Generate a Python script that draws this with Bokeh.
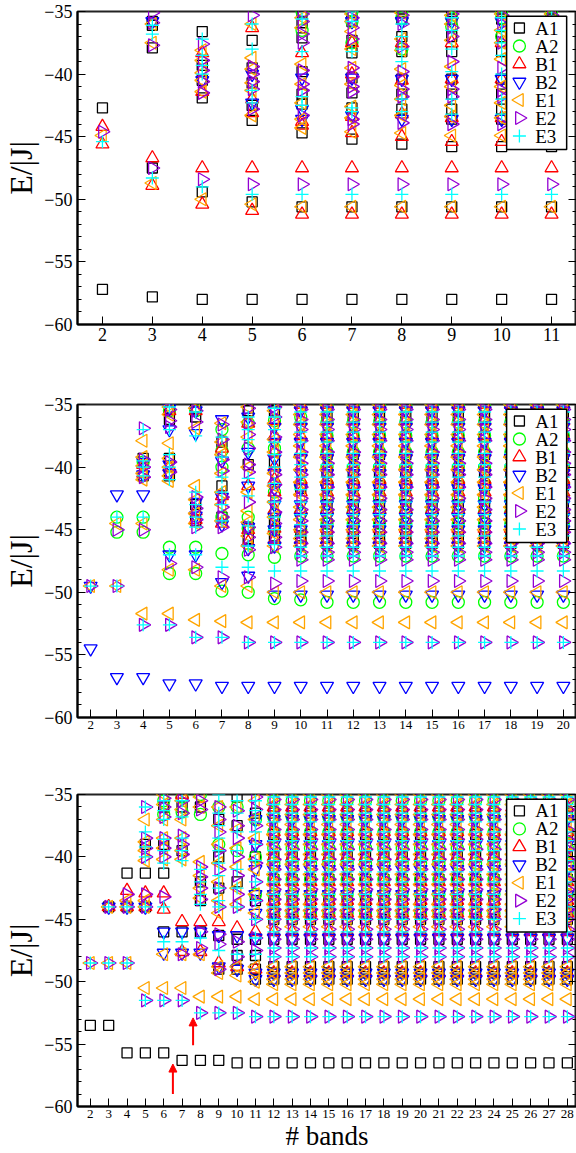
import math
from bokeh.plotting import figure
from bokeh.layouts import column
from bokeh.models import (Range1d, FixedTicker, SingleIntervalTicker, LinearAxis,
                          Arrow, NormalHead, ColumnDataSource)
from bokeh.core.properties import value
from bokeh.embed import file_html
from bokeh.resources import INLINE

SERIES = ["A1", "A2", "B1", "B2", "E1", "E2", "E3"]
Y_MIN, Y_MAX = -60, -35
P1_XTICKS = list(range(2, 12))
P2_XTICKS = list(range(2, 21))
P3_XTICKS = list(range(2, 29))

# ---------------- Panel 1 (bands 2..11) ----------------
P1_A1 = [([2], [-42.7, -57.2]),
         ([3], [-35.8, -36.1, -37.9, -47.5, -57.8]),
         ([4], [-36.6, -39.3, -40.5, -41.9, -49.4, -58.0]),
         ([5], [-37.3, -39.5, -40.7, -42.5, -43.7, -50.2, -58.0]),
         ([6], [-35.0, -35.9, -37.1, -39.8, -41.6, -42.4, -44.7, -50.6, -58.0]),
         ([7], [-35.0, -35.8, -37.3, -38.3, -40.3, -41.5, -42.7, -45.2, -50.6, -58.0]),
         ([8], [-35.0, -35.6, -37.0, -38.2, -40.4, -41.6, -42.8, -45.6, -50.6, -58.0]),
         ([9, 10, 11], [-35.0, -35.6, -37.0, -38.2, -40.4, -41.6, -42.8, -43.6, -45.8, -50.6, -58.0])]
P1_A2 = [([6], [-35.0, -36.5]),
         ([7], [-35.0, -35.8, -37.5]),
         ([8], [-35.0, -35.5, -38.0]),
         ([9], [-35.5, -36.2]),
         ([10, 11], [-35.0, -35.5, -37.0])]
P1_B1 = [([2], [-44.2, -45.6]),
         ([3], [-46.7, -48.9]),
         ([4], [-38.3, -41.4, -47.5, -50.4]),
         ([5], [-36.3, -42.0, -43.1, -47.5, -50.9]),
         ([6], [-38.3, -43.8, -44.1, -47.5, -51.2]),
         ([7], [-37.5, -40.0, -43.4, -44.7, -47.5, -51.2]),
         ([8], [-37.5, -40.5, -43.2, -45.0, -47.5, -51.2]),
         ([9, 10, 11], [-37.5, -40.4, -43.5, -45.4, -47.5, -51.2])]
P1_B2 = [([3], [-35.8]),
         ([4], [-40.5]),
         ([5], [-40.0, -42.3]),
         ([6], [-40.3, -42.8, -43.6]),
         ([7], [-35.8, -40.3, -43.3]),
         ([8, 9, 10, 11], [-35.8, -40.4, -43.6])]
P1_E1 = [([2], [-44.9]),
         ([3], [-36.0, -37.5, -48.7]),
         ([4], [-38.1, -38.9, -39.9, -40.5, -41.4, -50.0]),
         ([5], [-36.0, -38.7, -39.6, -40.7, -41.3, -43.3, -50.4]),
         ([6], [-35.5, -36.3, -39.2, -40.8, -42.3, -43.6, -44.3, -50.6]),
         ([7], [-35.2, -35.8, -36.6, -38.0, -39.5, -40.8, -42.6, -43.5, -44.6, -50.6]),
         ([8], [-35.1, -37.2, -38.1, -39.6, -40.9, -42.0, -43.3, -44.7, -50.6]),
         ([9], [-35.3, -36.0, -37.3, -39.4, -41.0, -42.5, -43.4, -44.9, -50.6]),
         ([10, 11], [-35.2, -36.5, -37.5, -38.8, -41.0, -42.3, -43.5, -44.9, -50.6])]
P1_E2 = [([2], [-44.6]),
         ([3], [-35.1, -35.9, -37.7, -47.5]),
         ([4], [-37.6, -38.9, -39.7, -40.6, -41.5, -48.4]),
         ([5], [-35.3, -39.4, -40.0, -40.6, -41.2, -42.8, -48.8]),
         ([6], [-35.2, -35.8, -36.8, -37.5, -39.7, -40.8, -41.3, -43.3, -48.8]),
         ([7], [-35.5, -36.3, -37.2, -39.5, -40.2, -41.0, -41.4, -43.6, -44.0, -48.8]),
         ([8], [-35.3, -36.0, -37.8, -39.8, -41.2, -41.8, -43.9, -48.8]),
         ([9], [-35.2, -36.3, -37.0, -39.0, -41.2, -41.8, -44.0, -48.8]),
         ([10, 11], [-35.3, -36.0, -37.5, -39.5, -41.3, -41.8, -44.0, -48.8])]
P1_E3 = [([2], [-45.4]),
         ([3], [-36.1, -36.8, -48.3]),
         ([4], [-37.2, -38.5, -39.3, -40.0, -49.0]),
         ([5], [-36.0, -38.0, -41.3, -42.3, -49.6]),
         ([6], [-35.6, -38.2, -41.8, -42.5, -49.6]),
         ([7], [-35.0, -35.8, -38.2, -42.7, -43.0, -49.6]),
         ([8], [-36.0, -37.0, -38.0, -39.0, -42.0, -43.0, -49.6]),
         ([9], [-35.5, -36.5, -38.0, -39.8, -42.0, -43.2, -49.6]),
         ([10, 11], [-35.5, -36.5, -37.5, -38.5, -40.0, -42.0, -43.2, -49.6])]

# ---------------- Panel 2 (bands 2..20) ----------------
P2_TAIL = list(range(11, 21))
P2_A1 = [([4], [-39.3, -40.7]),
         ([5], [-35.3, -36.2, -39.3, -40.7]),
         ([6], [-35.3, -36.0, -43.0, -44.3]),
         ([7], [-38.0, -41.5, -44.0]),
         ([8], [-35.5, -39.8, -44.8, -45.7]),
         ([9], [-35.5, -39.6, -44.3, -45.5]),
         ([10], [-41.7, -45.5, -46.0]),
         (P2_TAIL, [-36.0, -37.6, -39.0, -40.4, -41.5, -43.0, -44.5, -45.6, -46.1])]
P2_A2 = [([3, 4], [-44.0, -45.2]),
         ([4], [-39.6]),
         ([5, 6], [-35.5, -46.4, -48.5]),
         ([7], [-37.0, -38.7, -40.0, -44.0, -46.9, -49.9]),
         ([8], [-36.5, -38.5, -44.0, -44.9, -47.0, -50.0]),
         ([9], [-36.3, -38.5, -42.0, -43.8, -45.0, -47.2, -50.5]),
         ([10], [-36.0, -41.5, -43.7, -45.0, -47.1, -50.6]),
         (P2_TAIL, [-35.1, -36.4, -37.5, -38.8, -40.0, -41.3, -42.5, -43.6, -44.5, -47.1, -50.8])]
P2_B1 = [([4], [-39.8, -40.5]),
         ([5], [-35.5, -40.0]),
         ([6], [-35.5, -43.5, -44.2]),
         ([7], [-38.5, -42.3, -44.5]),
         ([8], [-36.5, -41.5, -45.0, -46.0]),
         ([9, 10] + P2_TAIL, [-35.0, -36.3, -37.5, -38.8, -40.0, -41.0, -42.0, -43.4, -44.9, -45.8])]
P2_B2 = [([2], [-49.5, -54.5]),
         ([3], [-42.2, -56.8]),
         ([4], [-39.6, -40.6, -42.2, -56.8]),
         ([5], [-35.3, -37.0, -39.8, -40.5, -47.0, -57.3]),
         ([6], [-35.5, -37.3, -42.8, -43.9, -47.0, -57.3]),
         ([7], [-36.2, -39.5, -42.4, -44.6, -49.2, -57.5]),
         ([8], [-36.0, -38.8, -41.5, -44.8, -46.5, -48.7, -57.5]),
         ([9, 10] + P2_TAIL, [-35.5, -36.8, -38.0, -39.3, -40.5, -41.7, -43.0, -44.0, -45.0, -46.3,
                              -50.2, -57.5])]
P2_E1 = [([2], [-49.5]),
         ([3], [-44.5, -49.5]),
         ([4], [-37.9, -39.2, -39.9, -40.5, -41.0, -44.5, -51.7]),
         ([5], [-35.2, -35.8, -38.1, -39.3, -40.0, -40.7, -41.1, -48.2, -51.7]),
         ([6], [-35.3, -36.9, -41.5, -42.6, -43.7, -44.5, -48.2, -52.2]),
         ([7], [-36.5, -38.0, -39.0, -40.5, -42.0, -43.0, -44.3, -49.5, -52.3]),
         ([8], [-35.2, -36.4, -37.6, -40.0, -42.0, -43.5, -44.4, -45.5, -46.3, -49.5, -52.4]),
         ([9], [-35.5, -36.5, -37.8, -38.8, -40.5, -41.5, -42.8, -44.0, -45.3, -46.3, -50.0, -52.4]),
         ([10] + P2_TAIL, [-35.0, -35.8, -36.6, -37.4, -38.3, -39.2, -40.2, -41.2, -42.2, -43.2,
                           -44.2, -45.0, -45.7, -46.3, -50.0, -52.4])]
P2_E2 = [([2], [-49.5]),
         ([3], [-45.0, -49.5]),
         ([4], [-36.9, -39.4, -40.0, -40.8, -45.0, -52.6]),
         ([5], [-35.4, -36.3, -36.8, -39.6, -40.4, -47.7, -52.6]),
         ([6], [-35.5, -36.4, -42.4, -43.3, -44.2, -44.8, -48.0, -53.6]),
         ([7], [-36.6, -37.8, -39.4, -40.3, -42.4, -43.2, -44.0, -44.8, -48.8, -53.6]),
         ([8], [-35.3, -36.5, -37.4, -38.5, -39.8, -40.4, -42.8, -44.8, -45.6, -46.6, -48.8, -54.0]),
         ([9], [-35.2, -36.0, -37.6, -38.8, -40.6, -41.4, -42.5, -43.6, -44.5, -45.6, -46.4, -49.3, -54.0]),
         ([10] + P2_TAIL, [-35.4, -36.2, -37.0, -37.9, -38.8, -39.7, -40.6, -41.6, -42.5, -43.4,
                           -44.3, -45.2, -46.1, -46.8, -47.4, -49.1, -54.0])]
P2_E3 = [([2], [-49.5]),
         ([3], [-44.0, -49.5]),
         ([4], [-37.0, -39.5, -40.0, -40.7, -44.0, -52.6]),
         ([5], [-35.2, -37.0, -39.0, -40.0, -41.0, -47.0, -52.6]),
         ([6], [-35.6, -37.5, -42.0, -43.0, -44.0, -44.8, -47.0, -53.6]),
         ([7], [-37.6, -39.2, -40.8, -42.0, -43.0, -44.3, -48.0, -53.6]),
         ([8], [-36.0, -37.0, -37.8, -38.7, -40.9, -42.3, -44.7, -46.3, -48.0, -54.0]),
         ([9], [-35.3, -36.0, -37.0, -38.0, -39.0, -40.0, -41.3, -42.8, -44.0, -45.0, -46.2, -48.3, -54.0]),
         ([10] + P2_TAIL, [-35.6, -36.4, -37.2, -38.0, -38.9, -39.8, -40.8, -41.8, -42.8, -43.8,
                           -44.6, -45.5, -46.4, -47.1, -48.3, -54.0])]

# ---------------- Panel 3 (bands 2..28) ----------------
P3_TAIL = list(range(12, 29))
P3_A1 = [([2], [-53.5]),
         ([3], [-44.0, -53.5]),
         ([4], [-41.3, -44.0, -55.7]),
         ([5], [-39.0, -41.3, -44.0, -55.7]),
         ([6], [-36.0, -39.0, -41.3, -46.0, -55.7]),
         ([7], [-36.0, -39.5, -46.0, -56.3]),
         ([8], [-36.0, -42.0, -43.5, -46.0, -56.3]),
         ([9], [-37.0, -40.0, -42.5, -46.3, -49.0, -56.3]),
         ([10], [-35.2, -37.5, -42.0, -46.6, -47.9, -49.0, -56.5]),
         ([11], [-36.5, -40.0, -43.5, -46.6, -47.9, -49.0, -49.8, -56.5]),
         (P3_TAIL, [-36.5, -38.2, -40.0, -41.8, -43.5, -45.0, -46.6, -48.8, -49.3, -49.8, -56.5])]
P3_A2 = [([6], [-35.5, -36.6]),
         ([7], [-35.2, -36.4]),
         ([8], [-35.0, -36.6]),
         ([9], [-36.0, -39.0]),
         ([10], [-36.0, -39.5]),
         ([11], [-37.0, -40.0, -43.0]),
         (P3_TAIL, [-35.5, -36.8, -38.0, -39.3, -40.5, -41.8, -43.0, -44.5])]
P3_B1 = [([3], [-44.0]),
         ([4], [-42.7, -44.0]),
         ([5], [-42.9, -44.0]),
         ([6], [-42.9, -44.2]),
         ([7], [-35.0, -45.2, -47.6]),
         ([8], [-45.2, -47.6]),
         ([9], [-45.2, -48.5]),
         ([10], [-45.7, -48.8]),
         ([11], [-46.0, -49.0]),
         (P3_TAIL, [-36.0, -38.0, -40.0, -42.0, -43.5, -44.5, -46.0, -49.3])]
P3_B2 = [([3, 4, 5], [-44.0]),
         ([6, 7, 8], [-46.0, -47.7]),
         ([9], [-46.3, -48.8]),
         ([10], [-46.3, -49.0]),
         ([11] + P3_TAIL, [-37.0, -39.0, -41.0, -43.0, -44.5, -46.5, -49.3, -49.8])]
P3_E1 = [([2], [-48.5]),
         ([3], [-44.0, -48.5]),
         ([4], [-43.5, -44.0, -48.5]),
         ([5], [-37.0, -38.8, -39.5, -40.3, -43.5, -44.0, -50.5]),
         ([6], [-35.0, -35.8, -37.0, -38.5, -39.3, -40.2, -47.8, -50.5]),
         ([7], [-35.5, -36.2, -37.0, -38.5, -39.5, -40.2, -47.8, -50.5]),
         ([8], [-35.2, -36.0, -40.4, -41.5, -42.5, -43.3, -47.8, -51.2]),
         ([9], [-36.0, -37.5, -39.0, -40.5, -42.0, -43.5, -44.5, -48.8, -49.3, -51.2]),
         ([10], [-36.0, -37.8, -39.3, -40.8, -42.5, -43.8, -48.8, -49.5, -51.2]),
         ([11], [-35.5, -37.0, -38.5, -40.2, -41.0, -43.0, -44.5, -48.8, -49.3, -50.0, -51.4]),
         (P3_TAIL, [-35.0, -35.8, -36.6, -37.4, -38.2, -39.0, -39.8, -40.6, -41.4, -42.2, -43.0,
                    -43.8, -44.3, -44.8, -45.6, -48.8, -49.3, -49.8, -50.2, -51.4])]
P3_E2 = [([2], [-48.5]),
         ([3], [-44.0, -48.5]),
         ([4], [-43.0, -44.0, -48.5]),
         ([5], [-36.0, -38.5, -39.3, -40.0, -43.0, -44.0, -51.5]),
         ([6], [-35.3, -36.0, -36.8, -38.5, -39.3, -40.0, -43.2, -51.5]),
         ([7], [-35.5, -36.5, -38.3, -39.0, -39.8, -47.8, -51.5]),
         ([8], [-35.5, -36.2, -40.8, -41.6, -42.5, -43.4, -46.0, -47.3, -52.5]),
         ([9], [-36.0, -37.0, -38.0, -39.5, -41.0, -42.5, -44.0, -46.2, -47.0, -49.0, -52.5]),
         ([10], [-36.3, -37.5, -38.5, -40.0, -41.5, -43.0, -44.0, -46.8, -48.0, -52.5]),
         ([11], [-35.2, -36.2, -37.5, -39.0, -40.5, -42.0, -43.5, -45.0, -46.5, -47.5, -52.8]),
         (P3_TAIL, [-35.4, -36.2, -37.0, -37.8, -38.6, -39.4, -40.2, -41.0, -41.8, -42.6, -43.4,
                    -44.2, -45.0, -45.8, -46.6, -47.3, -48.0, -52.8])]
P3_E3 = [([2], [-48.5]),
         ([3, 4], [-44.0, -48.5]),
         ([5], [-36.0, -38.0, -39.2, -40.0, -44.0, -51.5]),
         ([6], [-35.5, -36.3, -37.0, -38.6, -39.5, -40.5, -44.0, -46.8, -51.5]),
         ([7], [-35.5, -36.8, -38.5, -39.5, -40.3, -46.8, -51.5]),
         ([8], [-41.0, -42.0, -43.0, -43.8, -46.5, -52.5]),
         ([9], [-35.0, -36.5, -37.5, -38.5, -39.5, -40.5, -41.5, -42.5, -43.5, -44.0, -47.5, -52.5]),
         ([10], [-35.5, -36.5, -38.0, -39.5, -41.0, -42.5, -44.0, -47.8, -52.5]),
         ([11], [-35.5, -36.3, -37.2, -38.0, -39.0, -40.3, -42.0, -43.5, -45.0, -46.5, -47.8, -52.8]),
         (P3_TAIL, [-35.2, -35.8, -36.5, -37.2, -38.0, -38.7, -39.5, -40.3, -41.2, -42.0, -43.0,
                    -44.0, -45.0, -46.0, -47.3, -48.0, -52.8])]

# red arrows in panel 3
ARROW_X = [6.5, 7.6]
ARROW_Y_START = [-59.0, -55.1]
ARROW_Y_END = [-56.6, -52.9]

PANEL1 = dict(A1=P1_A1, A2=P1_A2, B1=P1_B1, B2=P1_B2, E1=P1_E1, E2=P1_E2, E3=P1_E3)
PANEL2 = dict(A1=P2_A1, A2=P2_A2, B1=P2_B1, B2=P2_B2, E1=P2_E1, E2=P2_E2, E3=P2_E3)
PANEL3 = dict(A1=P3_A1, A2=P3_A2, B1=P3_B1, B2=P3_B2, E1=P3_E1, E2=P3_E2, E3=P3_E3)

STYLE = {
    "A1": ("square", "#000000", 10, 0.0),
    "A2": ("circle", "#00ff00", 12, 0.0),
    "B1": ("triangle", "#ff0000", 13, 0.0),
    "B2": ("inverted_triangle", "#0000ff", 13, 0.0),
    "E1": ("triangle", "#ffa500", 13, math.pi / 2),
    "E2": ("triangle", "#9400d3", 13, -math.pi / 2),
    "E3": ("cross", "#00ffff", 13, 0.0),
}
FONT = "Liberation Serif"

# legend layout in frame pixels (origin at frame top-left)
FRAME_W, FRAME_H = 507, 313
LEG_LEFT, LEG_RIGHT, LEG_TOP, LEG_BOTTOM = 436, 497, 4.7, 138
LEG_MARK_X, LEG_TEXT_X = 449, 465
LEG_ROW0, LEG_STEP = 16.5, 18.0


def expand(groups):
    xs, ys = [], []
    for bands, levels in groups:
        for b in bands:
            for e in levels:
                xs.append(b)
                ys.append(e)
    return xs, ys


def make_panel(data, xticks, xr, height, top, bottom, xfont, xlabel=None):
    p = figure(width=576, height=height, x_range=Range1d(*xr), y_range=Range1d(Y_MIN, Y_MAX),
               output_backend="svg", toolbar_location=None,
               min_border_left=69, min_border_right=0, min_border_top=top, min_border_bottom=bottom,
               background_fill_color="white", border_fill_color="white",
               outline_line_color="#222222", outline_line_width=2)
    p.xgrid.visible = False
    p.ygrid.visible = False
    for s in SERIES:
        xs, ys = expand(data[s])
        marker, color, size, ang = STYLE[s]
        p.scatter(x=xs, y=ys, marker=marker, size=size, angle=ang, line_color=color,
                  fill_color=None, line_width=1.3)

    xa = p.xaxis[0]
    xa.ticker = FixedTicker(ticks=xticks)
    xa.major_tick_in = 8
    xa.major_tick_out = 0
    xa.minor_tick_in = 0
    xa.minor_tick_out = 0
    xa.axis_line_width = 2
    xa.major_label_text_font = FONT
    xa.major_label_text_font_size = xfont
    xa.major_label_text_color = "black"
    xa.major_label_standoff = 3
    if xlabel:
        xa.axis_label = xlabel
        xa.axis_label_text_font = FONT
        xa.axis_label_text_font_size = "27px"
        xa.axis_label_text_font_style = "normal"
        xa.axis_label_text_color = "black"
        xa.axis_label_standoff = 0

    ya = p.yaxis[0]
    ya.ticker = SingleIntervalTicker(interval=5, num_minor_ticks=5)
    ya.major_tick_in = 8
    ya.major_tick_out = 0
    ya.minor_tick_in = 4
    ya.minor_tick_out = 0
    ya.axis_line_width = 2
    ya.major_label_text_font = FONT
    ya.major_label_text_font_size = "18px"
    ya.major_label_text_color = "black"
    ya.major_label_standoff = 5
    ya.axis_label = "E/|J|"
    ya.axis_label_text_font = FONT
    ya.axis_label_text_font_size = "32px"
    ya.axis_label_text_font_style = "normal"
    ya.axis_label_text_color = "black"
    ya.axis_label_standoff = 2

    ra = LinearAxis(ticker=SingleIntervalTicker(interval=5, num_minor_ticks=5),
                    major_tick_in=8, major_tick_out=0, minor_tick_in=4, minor_tick_out=0,
                    major_label_text_font_size="1px", major_label_text_color=None,
                    major_label_standoff=0, axis_line_color=None)
    p.add_layout(ra, "right")

    # legend box drawn in frame-pixel coordinates
    p.extra_x_ranges = {"lpx": Range1d(0, FRAME_W)}
    p.extra_y_ranges = {"lpy": Range1d(FRAME_H, 0)}
    p.quad(left=[LEG_LEFT], right=[LEG_RIGHT], top=[LEG_TOP], bottom=[LEG_BOTTOM],
           fill_color="white", line_color="black", line_width=1.5,
           x_range_name="lpx", y_range_name="lpy")
    for i, s in enumerate(SERIES):
        marker, color, size, ang = STYLE[s]
        ry = LEG_ROW0 + LEG_STEP * i
        p.scatter(x=[LEG_MARK_X], y=[ry], marker=marker, size=size, angle=ang,
                  line_color=color, fill_color=None, line_width=1.3,
                  x_range_name="lpx", y_range_name="lpy")
        p.text(x=[LEG_TEXT_X], y=[ry], text=[s], text_font=value(FONT), text_font_size="19px",
               text_baseline="middle", text_align="left", text_color="black",
               x_range_name="lpx", y_range_name="lpy")
    return p


p1 = make_panel(PANEL1, P1_XTICKS, (1.5, 11.5), 392, 11, 68, "18px")
p2 = make_panel(PANEL2, P2_XTICKS, (1.5, 20.5), 392, 12, 67, "13px")
p3 = make_panel(PANEL3, P3_XTICKS, (1.3, 28.5), 369, 10, 46, "13px", xlabel="# bands")

arrows = ColumnDataSource(dict(x0=ARROW_X, y0=ARROW_Y_START, x1=ARROW_X, y1=ARROW_Y_END))
p3.add_layout(Arrow(end=NormalHead(size=8, fill_color="red", line_color="red"),
                    x_start="x0", y_start="y0", x_end="x1", y_end="y1", source=arrows,
                    line_color="red", line_width=2))

layout = column(p1, p2, p3, spacing=0)
open("out.html", "w").write(file_html(layout, INLINE))
